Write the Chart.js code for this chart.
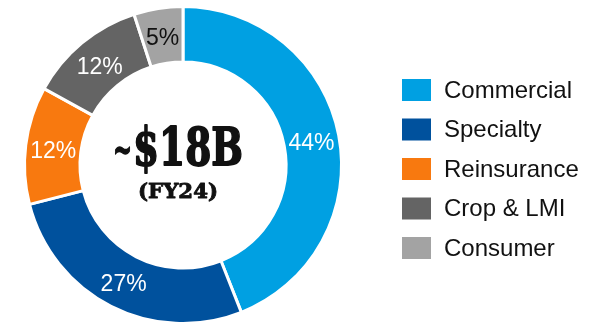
<!DOCTYPE html>
<html>
<head>
<meta charset="utf-8">
<script src="https://cdn.jsdelivr.net/npm/chart.js@4"></script>
<style>
  html, body { margin: 0; padding: 0; background: #fff; }
  canvas { display: block; }
</style>
</head>
<body>
<canvas id="myChart" width="611" height="327"></canvas>
<script>
var segments = ['Commercial', 'Specialty', 'Reinsurance', 'Crop & LMI', 'Consumer'];
var shares = [44, 27, 12, 12, 5];
var colours = ['#00a0e2', '#00519d', '#f8790f', '#646464', '#a3a3a3'];
var labelColours = ['#ffffff', '#ffffff', '#ffffff', '#ffffff', '#111111'];
var totalText = '~$18B';
var yearText = '(FY24)';

// squeeze a string horizontally into a given width (left aligned), thicken with a stroke
function drawSquashed(ctx, text, font, x, y, width, weight) {
  ctx.font = font;
  var w = ctx.measureText(text).width;
  ctx.save();
  ctx.translate(x, y);
  ctx.scale(width / w, 1);
  ctx.textAlign = 'left';
  if (weight) {
    ctx.lineWidth = weight;
    ctx.lineJoin = 'round';
    ctx.strokeText(text, 0, 0);
  }
  ctx.fillText(text, 0, 0);
  ctx.restore();
}

// percent on every slice
const sliceLabels = {
  id: 'sliceLabels',
  afterDatasetsDraw(chart) {
    const ctx = chart.ctx;
    const meta = chart.getDatasetMeta(0);
    ctx.save();
    ctx.font = '23px "Liberation Sans", Arial, sans-serif';
    ctx.textAlign = 'center';
    ctx.textBaseline = 'middle';
    meta.data.forEach(function(arc, i) {
      const p = arc.tooltipPosition();
      ctx.fillStyle = labelColours[i];
      ctx.fillText(shares[i] + '%', p.x, p.y + 3);
    });
    ctx.restore();
  }
};

// total in the hole: small tilde, then the amount, year underneath
const centreText = {
  id: 'centreText',
  afterDraw(chart) {
    const ctx = chart.ctx;
    const arc = chart.getDatasetMeta(0).data[0];
    const x = arc.x, y = arc.y;
    ctx.save();
    ctx.fillStyle = '#111111';
    ctx.strokeStyle = '#111111';
    ctx.textBaseline = 'alphabetic';
    drawSquashed(ctx, totalText.charAt(0), 'bold 40px "DejaVu Serif", serif', x - 70, y - 2, 19, 1.5);
    drawSquashed(ctx, totalText.slice(1), 'bold 52px "DejaVu Serif", serif', x - 50, y, 110, 1.8);
    drawSquashed(ctx, yearText, 'bold 21px "DejaVu Serif", serif', x - 45, y + 33, 80, 0.9);
    ctx.restore();
  }
};

// legend column on the right
const sideLegend = {
  id: 'sideLegend',
  afterDraw(chart) {
    const ctx = chart.ctx;
    const ds = chart.data.datasets[0];
    ctx.save();
    ctx.font = '24px "Liberation Sans", Arial, sans-serif';
    ctx.textAlign = 'left';
    ctx.textBaseline = 'middle';
    chart.data.labels.forEach(function(lbl, i) {
      const top = 79 + i * 39.5;
      ctx.fillStyle = ds.backgroundColor[i];
      ctx.fillRect(402, top, 29, 22);
      ctx.fillStyle = '#111111';
      ctx.fillText(lbl, 444, top + 12);
    });
    ctx.restore();
  }
};

var ctx = document.getElementById('myChart');
const config = {
  type: 'doughnut',
  data: {
    labels: segments,
    datasets: [{
      data: shares,
      backgroundColor: colours,
      borderColor: '#ffffff',
      borderWidth: 3
    }]
  },
  options: {
    responsive: false,
    animation: false,
    cutout: '65%',
    layout: {
      padding: { left: 23, top: 5, right: 268, bottom: 2 }
    },
    plugins: {
      legend: { display: false },
      tooltip: { enabled: false }
    }
  },
  plugins: [sliceLabels, centreText, sideLegend]
};

var chart = new Chart(ctx, config);
</script>
</body>
</html>
